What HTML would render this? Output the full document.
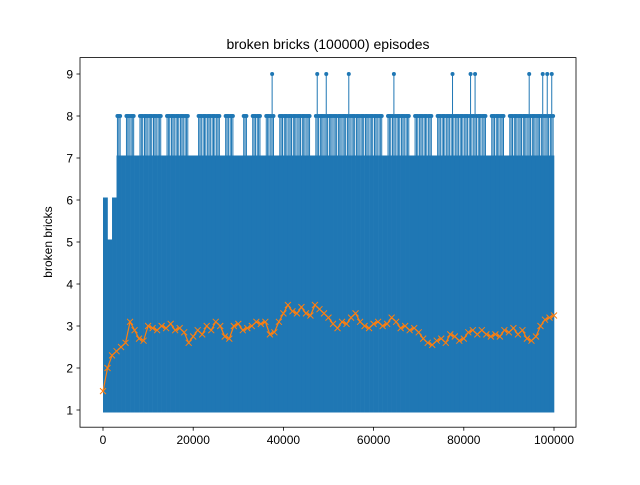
<!DOCTYPE html>
<html><head><meta charset="utf-8"><style>
body{margin:0;background:#fff;}
svg text{font-family:"Liberation Sans","DejaVu Sans",sans-serif;}
</style></head><body>
<svg id="chart" width="640" height="480" xmlns="http://www.w3.org/2000/svg">
<rect width="640" height="480" fill="#fff"/>
<text x="328" y="49" font-size="14" text-anchor="middle" fill="#000">broken bricks (100000) episodes</text>
<text transform="translate(52,242) rotate(-90)" font-size="12" text-anchor="middle" fill="#000">broken bricks</text>
<g id="plot"></g>
<g id="axes"></g>
</svg>
<script>
const binMax = [6,5,6,8,7,8,8,7,8,8, 8,8,8,7,8,8,8,8,8,7, 7,8,8,8,8,8,7,8,8,7, 7,8,7,8,8,7,8,9,7,8, 8,8,8,8,8,8,7,9,8,9, 8,8,8,8,9,8,8,8,8,8, 8,8,7,8,9,8,8,8,7,8, 8,8,8,7,8,8,8,9,8,8, 8,9,9,8,8,7,8,8,8,7, 8,8,8,8,9,8,8,9,9,9];
const meanValues = [1.45,2.0,2.3,2.4,2.5,2.6,3.1,2.9,2.7,2.65,
3.0,2.95,2.9,3.0,2.95,3.05,2.9,2.95,2.85,2.6,
2.75,2.9,2.8,3.0,2.9,3.1,3.0,2.75,2.7,3.0,
3.05,2.9,2.95,3.0,3.1,3.05,3.1,2.8,2.85,3.1,
3.3,3.5,3.35,3.3,3.45,3.3,3.25,3.5,3.4,3.3,
3.2,3.05,2.95,3.1,3.05,3.2,3.3,3.1,3.0,2.95,
3.05,3.1,3.0,3.05,3.2,3.1,2.95,3.0,2.9,2.95,
2.85,2.7,2.6,2.55,2.65,2.7,2.6,2.8,2.75,2.65,
2.7,2.85,2.9,2.8,2.9,2.8,2.75,2.8,2.75,2.9,
2.85,2.95,2.8,2.9,2.7,2.65,2.75,3.0,3.15,3.2,3.25];
const binSize = 1000;
const xTicks = [0,20000,40000,60000,80000,100000];
const yTicks = [1,2,3,4,5,6,7,8,9];

const NS="http://www.w3.org/2000/svg";
const L=80,R=576,T=57.6,B=427.2;
const X=v=>103+(v/100000)*451;
const Y=v=>410+(1-v)*42;
const plot=document.getElementById('plot'),axes=document.getElementById('axes');
function mk(tag,attrs,parent){const e=document.createElementNS(NS,tag);for(const k in attrs)e.setAttribute(k,attrs[k]);parent.appendChild(e);return e;}
const blue="#1f77b4",orange="#ff7f0e";
binMax.forEach((m,i)=>{
  const x0=X(i*binSize),x1=X((i+1)*binSize);
  const top=Math.min(m,7);
  const r=mk('rect',{x:x0,y:Y(top)-2.5,width:x1-x0+0.3,height:Y(1)-Y(top)+5,fill:blue},plot);
  
  
  if(m>7){
    [0.2,0.5,0.8].forEach((f,k)=>{
      const xc=x0+(x1-x0)*f;
      const lvl=(k===1)?m:8;
      const l=mk('line',{x1:xc,x2:xc,y1:Y(7),y2:Y(lvl),stroke:blue,'stroke-width':1},plot);
      
      
      const c=mk('circle',{cx:xc,cy:Y(lvl),r:2,fill:blue},plot);
      
      
    });
  }
});
const pts=meanValues.map((v,i)=>X(i*binSize)+','+Y(v)).join(' ');
const pl=mk('polyline',{points:pts,fill:'none',stroke:orange,'stroke-width':1.2},plot);


meanValues.forEach((v,i)=>{
  const x=X(i*binSize),y=Y(v);
  const p=mk('path',{d:`M${x-3},${y-3}L${x+3},${y+3}M${x-3},${y+3}L${x+3},${y-3}`,stroke:orange,'stroke-width':1},plot);
  
  
});
const fr=mk('rect',{x:L,y:T,width:R-L,height:B-T,fill:'none',stroke:'#000','stroke-width':0.8},axes);


xTicks.forEach(v=>{
  const x=X(v);
  const t=mk('line',{x1:x,x2:x,y1:B,y2:B+3.5,stroke:'#000','stroke-width':0.8},axes);
  
  
  const tx=mk('text',{x:x,y:B+17,'font-size':12,'text-anchor':'middle'},axes);
  tx.textContent=String(v);
  
  
});
yTicks.forEach(v=>{
  const y=Y(v);
  const t=mk('line',{x1:L-3.5,x2:L,y1:y,y2:y,stroke:'#000','stroke-width':0.8},axes);
  
  
  const tx=mk('text',{x:L-7,y:y+4.5,'font-size':12,'text-anchor':'end'},axes);
  tx.textContent=String(v);
  
  
});
</script>
</body></html>
